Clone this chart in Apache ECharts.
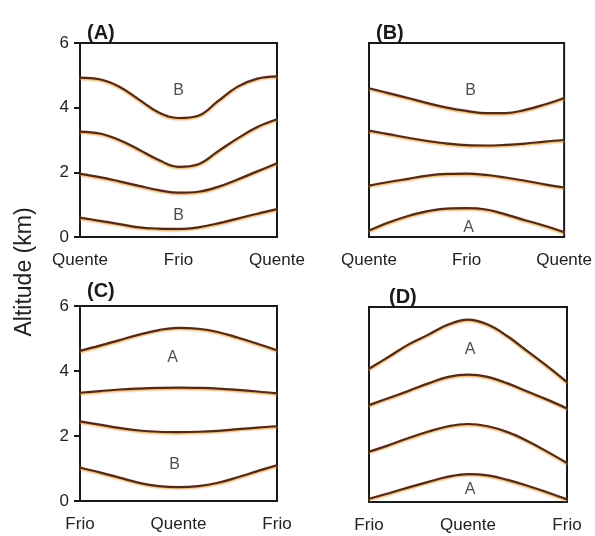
<!DOCTYPE html>
<html>
<head>
<meta charset="utf-8">
<script src="https://cdn.jsdelivr.net/npm/echarts@6/dist/echarts.min.js"></script>
<style>
  html, body { margin: 0; padding: 0; background: #fff; }
  #chart { width: 595px; height: 536px; }
</style>
</head>
<body>
<div id="chart"></div>
<script>
// posição ao longo da secção: 0..10 (11 pontos)
let xs = [0, 1, 2, 3, 4, 5, 6, 7, 8, 9, 10];

// tick labels do eixo x
let labelsAB = ['Quente', 'Frio', 'Quente'];
let labelsCD = ['Frio', 'Quente', 'Frio'];

// altitude (km) das linhas em cada painel
let panelA = [
  [4.93, 4.88, 4.65, 4.25, 3.85, 3.68, 3.75, 4.2, 4.65, 4.9, 4.97],
  [3.26, 3.2, 3.0, 2.7, 2.38, 2.17, 2.25, 2.65, 3.05, 3.4, 3.64],
  [1.95, 1.85, 1.72, 1.58, 1.45, 1.37, 1.4, 1.55, 1.78, 2.03, 2.28],
  [0.6, 0.5, 0.4, 0.3, 0.26, 0.25, 0.3, 0.42, 0.57, 0.72, 0.86]
];
let panelB = [
  [4.6, 4.45, 4.3, 4.14, 4.0, 3.9, 3.83, 3.83, 3.93, 4.1, 4.3],
  [3.29, 3.18, 3.07, 2.97, 2.89, 2.84, 2.83, 2.85, 2.89, 2.95, 3.0],
  [1.59, 1.7, 1.8, 1.9, 1.95, 1.96, 1.92, 1.84, 1.74, 1.63, 1.53],
  [0.2, 0.45, 0.65, 0.8, 0.88, 0.89, 0.85, 0.7, 0.52, 0.35, 0.15]
];
let panelC = [
  [4.62, 4.78, 4.95, 5.12, 5.26, 5.33, 5.3, 5.2, 5.03, 4.84, 4.64],
  [3.33, 3.38, 3.43, 3.46, 3.48, 3.49, 3.48, 3.46, 3.42, 3.37, 3.31],
  [2.45, 2.35, 2.25, 2.17, 2.13, 2.12, 2.13, 2.16, 2.21, 2.26, 2.3],
  [1.03, 0.88, 0.72, 0.56, 0.46, 0.43, 0.46, 0.56, 0.73, 0.92, 1.1]
];
let panelD = [
  [4.1, 4.47, 4.85, 5.15, 5.46, 5.61, 5.46, 5.1, 4.64, 4.18, 3.69],
  [2.98, 3.2, 3.42, 3.65, 3.85, 3.92, 3.85, 3.65, 3.4, 3.15, 2.88],
  [1.55, 1.75, 1.97, 2.17, 2.33, 2.4, 2.33, 2.15, 1.88, 1.55, 1.2],
  [0.1, 0.27, 0.45, 0.62, 0.78, 0.86, 0.82, 0.68, 0.5, 0.3, 0.08]
];

// letras A / B dentro de cada painel: [x, altitude, texto]
let marksA = [[5.0, 4.53, 'B'], [5.0, 0.65, 'B']];
let marksB = [[5.2, 4.53, 'B'], [5.1, 0.29, 'A']];
let marksC = [[4.7, 4.42, 'A'], [4.8, 1.12, 'B']];
let marksD = [[5.1, 4.69, 'A'], [5.1, 0.38, 'A']];

let font = "'Liberation Sans', Arial, sans-serif";
let myChart = echarts.init(document.getElementById('chart'));

let grids = [
  {left: 80, top: 43, width: 197, height: 194},
  {left: 369, top: 43, width: 198, height: 194},
  {left: 80, top: 306, width: 197, height: 195},
  {left: 369, top: 307, width: 198, height: 195}
];
let panels = [panelA, panelB, panelC, panelD];
let marks = [marksA, marksB, marksC, marksD];
let xNames = [labelsAB, labelsAB, labelsCD, labelsCD];

let xAxes = [], yAxes = [], series = [];
grids.forEach(function (g, i) {
  g.show = true;
  g.borderColor = '#1a1a1a';
  g.borderWidth = 2;
  g.backgroundColor = '#fff';
  let names = xNames[i];
  xAxes.push({
    gridIndex: i, type: 'value', min: 0, max: 10, interval: 5,
    axisLine: {show: false}, axisTick: {show: false}, splitLine: {show: false},
    axisLabel: {
      margin: 15, fontSize: 17, color: '#222', fontFamily: font,
      formatter: function (v) { return names[v / 5]; }
    }
  });
  let withLabels = (i === 0 || i === 2);
  yAxes.push({
    gridIndex: i, type: 'value', min: 0, max: 6, interval: 2,
    splitLine: {show: false},
    axisLine: {show: withLabels, lineStyle: {color: '#1a1a1a', width: 2}},
    axisTick: {show: withLabels, length: 6, lineStyle: {color: '#1a1a1a', width: 2}},
    axisLabel: {show: withLabels, fontSize: 17, color: '#222', fontFamily: font, margin: 11}
  });
  panels[i].forEach(function (line) {
    series.push({
      type: 'line', xAxisIndex: i, yAxisIndex: i,
      data: xs.map(function (x, k) { return [x, line[k]]; }),
      smooth: 0.4, symbol: 'none', silent: true,
      lineStyle: {
        color: '#4f2a1c', width: 2.2,
        shadowColor: 'rgba(235,150,40,0.85)', shadowBlur: 2, shadowOffsetY: 1.2
      }
    });
  });
  series.push({
    type: 'scatter', xAxisIndex: i, yAxisIndex: i,
    symbolSize: 0, silent: true,
    data: marks[i],
    label: {
      show: true, position: 'inside', fontSize: 16, color: '#222', fontFamily: font,
      formatter: function (p) { return p.value[2]; }
    }
  });
});

let option = {
  animation: false,
  backgroundColor: '#fff',
  title: [
    {text: '(A)', left: 82, top: 18},
    {text: '(B)', left: 371, top: 18},
    {text: '(C)', left: 82, top: 276},
    {text: '(D)', left: 384, top: 282}
  ].map(function (t) {
    t.textStyle = {fontSize: 20, fontWeight: 'bold', color: '#1a1a1a', fontFamily: font};
    return t;
  }),
  grid: grids,
  xAxis: xAxes,
  yAxis: yAxes,
  graphic: [{
    type: 'text', x: 25, y: 272, rotation: Math.PI / 2,
    style: {
      text: 'Altitude (km)', fontSize: 23, fill: '#222', fontFamily: font,
      align: 'center', verticalAlign: 'middle'
    }
  }],
  series: series
};
myChart.setOption(option);
</script>
</body>
</html>
